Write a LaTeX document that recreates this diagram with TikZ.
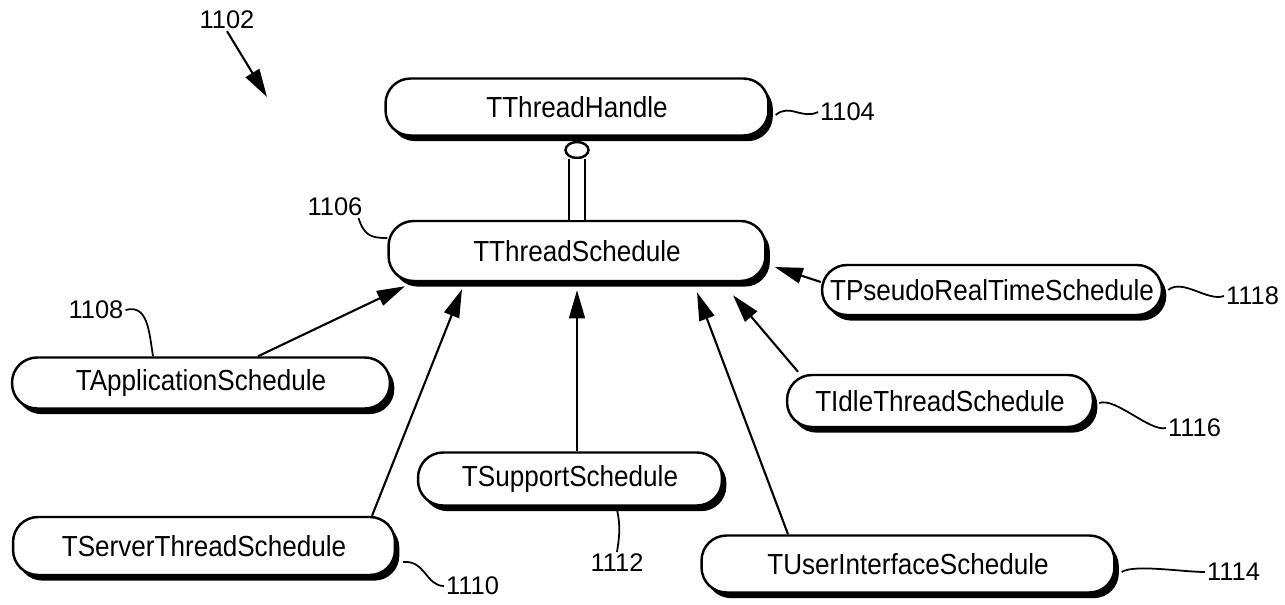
\documentclass[tikz,border=0pt]{standalone}
\usepackage{fontspec}
\setmainfont{Liberation Sans}
\newfontfamily\clsfont{Liberation Sans}[FakeStretch=0.9]
\usetikzlibrary{shapes.geometric,shadows,arrows.meta,calc}

\begin{document}
\begin{tikzpicture}[x=0.02cm,y=-0.02cm,
  cls/.style={draw,line width=1.4pt,fill=white,rounded corners=0.5cm,inner sep=0pt,
    font=\clsfont\fontsize{16.5}{20}\selectfont,
    drop shadow={shadow xshift=2.5pt,shadow yshift=-3.2pt,fill=black,opacity=1}},
  ref/.style={inner sep=1pt,font=\fontsize{14.5}{17}\selectfont},
  inherit/.style={line width=1.2pt,-{Triangle[length=16pt,width=9pt]}},
  squig/.style={line width=1pt}]
  \useasboundingbox (0,0) rectangle (1285,605);

  \node[cls,minimum width=7.66cm,minimum height=1.14cm] (thandle) at (577,107) {TThreadHandle};
  \node[cls,minimum width=7.54cm,minimum height=1.2cm] (tsched) at (577,251) {TThreadSchedule};
  \node[cls,minimum width=6.8cm,minimum height=1.0cm] (tpseudo) at (992,290) {TPseudoRealTimeSchedule};
  \node[cls,minimum width=7.56cm,minimum height=1.02cm] (tapp) at (201,383) {TApplicationSchedule};
  \node[cls,minimum width=6.12cm,minimum height=1.04cm] (tidle) at (940,401) {TIdleThreadSchedule};
  \node[cls,minimum width=6.08cm,minimum height=1.06cm] (tsupport) at (570,479) {TSupportSchedule};
  \node[cls,minimum width=7.64cm,minimum height=1.16cm] (tserver) at (204,546) {TServerThreadSchedule};
  \node[cls,minimum width=8.26cm,minimum height=1.14cm] (tuser) at (908,564) {TUserInterfaceSchedule};

  \node[draw,ellipse,line width=1.4pt,fill=white,minimum width=0.46cm,minimum height=0.32cm,inner sep=0pt] (knob) at (577,150) {};
  \draw[line width=1.3pt,double distance=0.27cm] (knob.south) -- (knob.south |- tsched.north);

  \draw[inherit] ($(tapp.north)+(57,0)$) -- ($(tsched.south)+(-172,4)$);
  \draw[inherit] ($(tserver.north)+(168,0)$) -- ($(tsched.south)+(-115,7)$);
  \draw[inherit] ($(tsupport.north)+(7,0)$) -- ($(tsched.south)+(0,8)$);
  \draw[inherit] ($(tuser.north)+(-120,0)$) -- ($(tsched.south)+(120,10)$);
  \draw[inherit] ($(tidle.north)+(-142,-2)$) -- ($(tsched.south)+(156,13)$);
  \draw[inherit] ($(tpseudo.west)+(0,-8)$) -- ($(tsched.east)+(8,16)$);

  \node[ref] (n1102) at (227,20) {1102};
  \coordinate (c1102) at (267,97);
  \draw[inherit] (n1102.south) -- (c1102);

  \node[ref,anchor=west] (n1104) at (818,112) {1104};
  \node[ref] (n1106) at (335,207) {1106};
  \node[ref] (n1108) at (96,310) {1108};
  \node[ref,anchor=west] (n1110) at (444,586) {1110};
  \node[ref,anchor=north] (n1112) at (617,552) {1112};
  \node[ref,anchor=west] (n1114) at (1205,572) {1114};
  \node[ref,anchor=west] (n1116) at (1166,428) {1116};
  \node[ref,anchor=west] (n1118) at (1224,296) {1118};

  \draw[squig] ($(thandle.east)+(6,8)$) .. controls +(14,-12) and +(-16,8) .. (n1104.west);
  \draw[squig] ($(n1106.south east)+(-6,0)$) .. controls +(6,18) and +(-16,0) .. ($(tsched.west)+(0,-13)$);
  \draw[squig] (n1108.east) .. controls +(22,-6) and +(-4,-26) .. ($(tapp.north)+(-48,0)$);
  \draw[squig] ($(tserver.east)+(7,16)$) .. controls +(22,-2) and +(-18,0) .. (n1110.west);
  \draw[squig] ($(tsupport.south)+(47,3)$) .. controls +(4,18) and +(2,-14) .. (n1112.north);
  \draw[squig] ($(tuser.east)+(6,8)$) .. controls +(12,-8) and +(-22,0) .. (n1114.west);
  \draw[squig] ($(tidle.east)+(5,2)$) .. controls +(16,-6) and +(-16,4) .. (n1116.west);
  \draw[squig] ($(tpseudo.east)+(5,0)$) .. controls +(14,-12) and +(-16,6) .. (n1118.west);
\end{tikzpicture}
\end{document}
